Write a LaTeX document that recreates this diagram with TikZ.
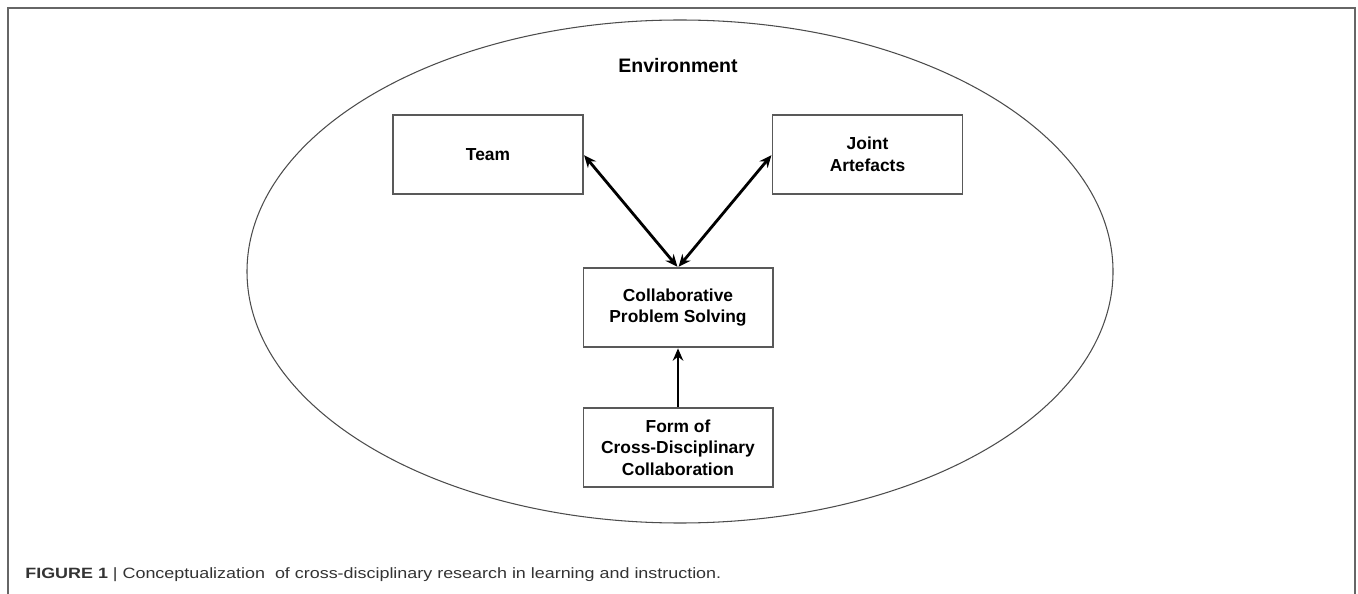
\documentclass[tikz,border=0pt]{standalone}
\usepackage{fontspec}
\setmainfont{Liberation Sans}
\newfontfamily\captionfont[FakeStretch=1.2]{Liberation Sans}
\usepackage{tikz}
\usetikzlibrary{arrows.meta}

\tikzset{
  conceptbox/.style={draw=black!65,line width=0.6pt,fill=white,
    minimum width=3.8cm,minimum height=1.58cm,inner sep=2pt,
    align=center,font=\fontsize{9.9}{12.3}\selectfont\bfseries},
  link/.style={line width=1.6pt,black,shorten >=0.5pt,shorten <=0.5pt},
}

\begin{document}
\begin{tikzpicture}[x=0.02cm,y=-0.02cm]
\useasboundingbox (0,0) rectangle (1358,594);
% Panel frame, open at the bottom
\draw[black!60,line width=0.9pt] (8,594) -- (8,8) -- (1355,8) -- (1355,594);

% Environment
\draw[black!70,line width=0.6pt] (680,271.5) ellipse [x radius=433,y radius=251.5];
\node (env) at (678,66) {\fontsize{11.1}{13}\selectfont\bfseries Environment};

% Boxes
\node[conceptbox] (team) at (488,154.5) {Team};
\node[conceptbox] (artefacts) at (867.5,154.5) {Joint\\Artefacts};
\node[conceptbox] (cps) at (678,307.5) {Collaborative\\Problem Solving};
\node[conceptbox] (form) at (678,447.5) {Form of\\Cross-Disciplinary\\Collaboration};

% Links
\draw[link,{Stealth[length=7pt,width=6pt]}-{Stealth[length=7pt,width=6pt]}] (team.east) -- (cps.north);
\draw[link,{Stealth[length=7pt,width=6pt]}-{Stealth[length=7pt,width=6pt]}] (artefacts.west) -- (cps.north);
\draw[link,-{Stealth[length=7pt,width=6pt]}] (form.north) -- (cps.south);

% Caption
\node[anchor=base west,inner sep=0pt,text=black!80] (caption) at (25,578)
  {\captionfont\fontsize{8.5}{10}\selectfont\textbf{FIGURE 1} | Conceptualization\ \ of cross-disciplinary research in learning and instruction.};
\end{tikzpicture}
\end{document}
